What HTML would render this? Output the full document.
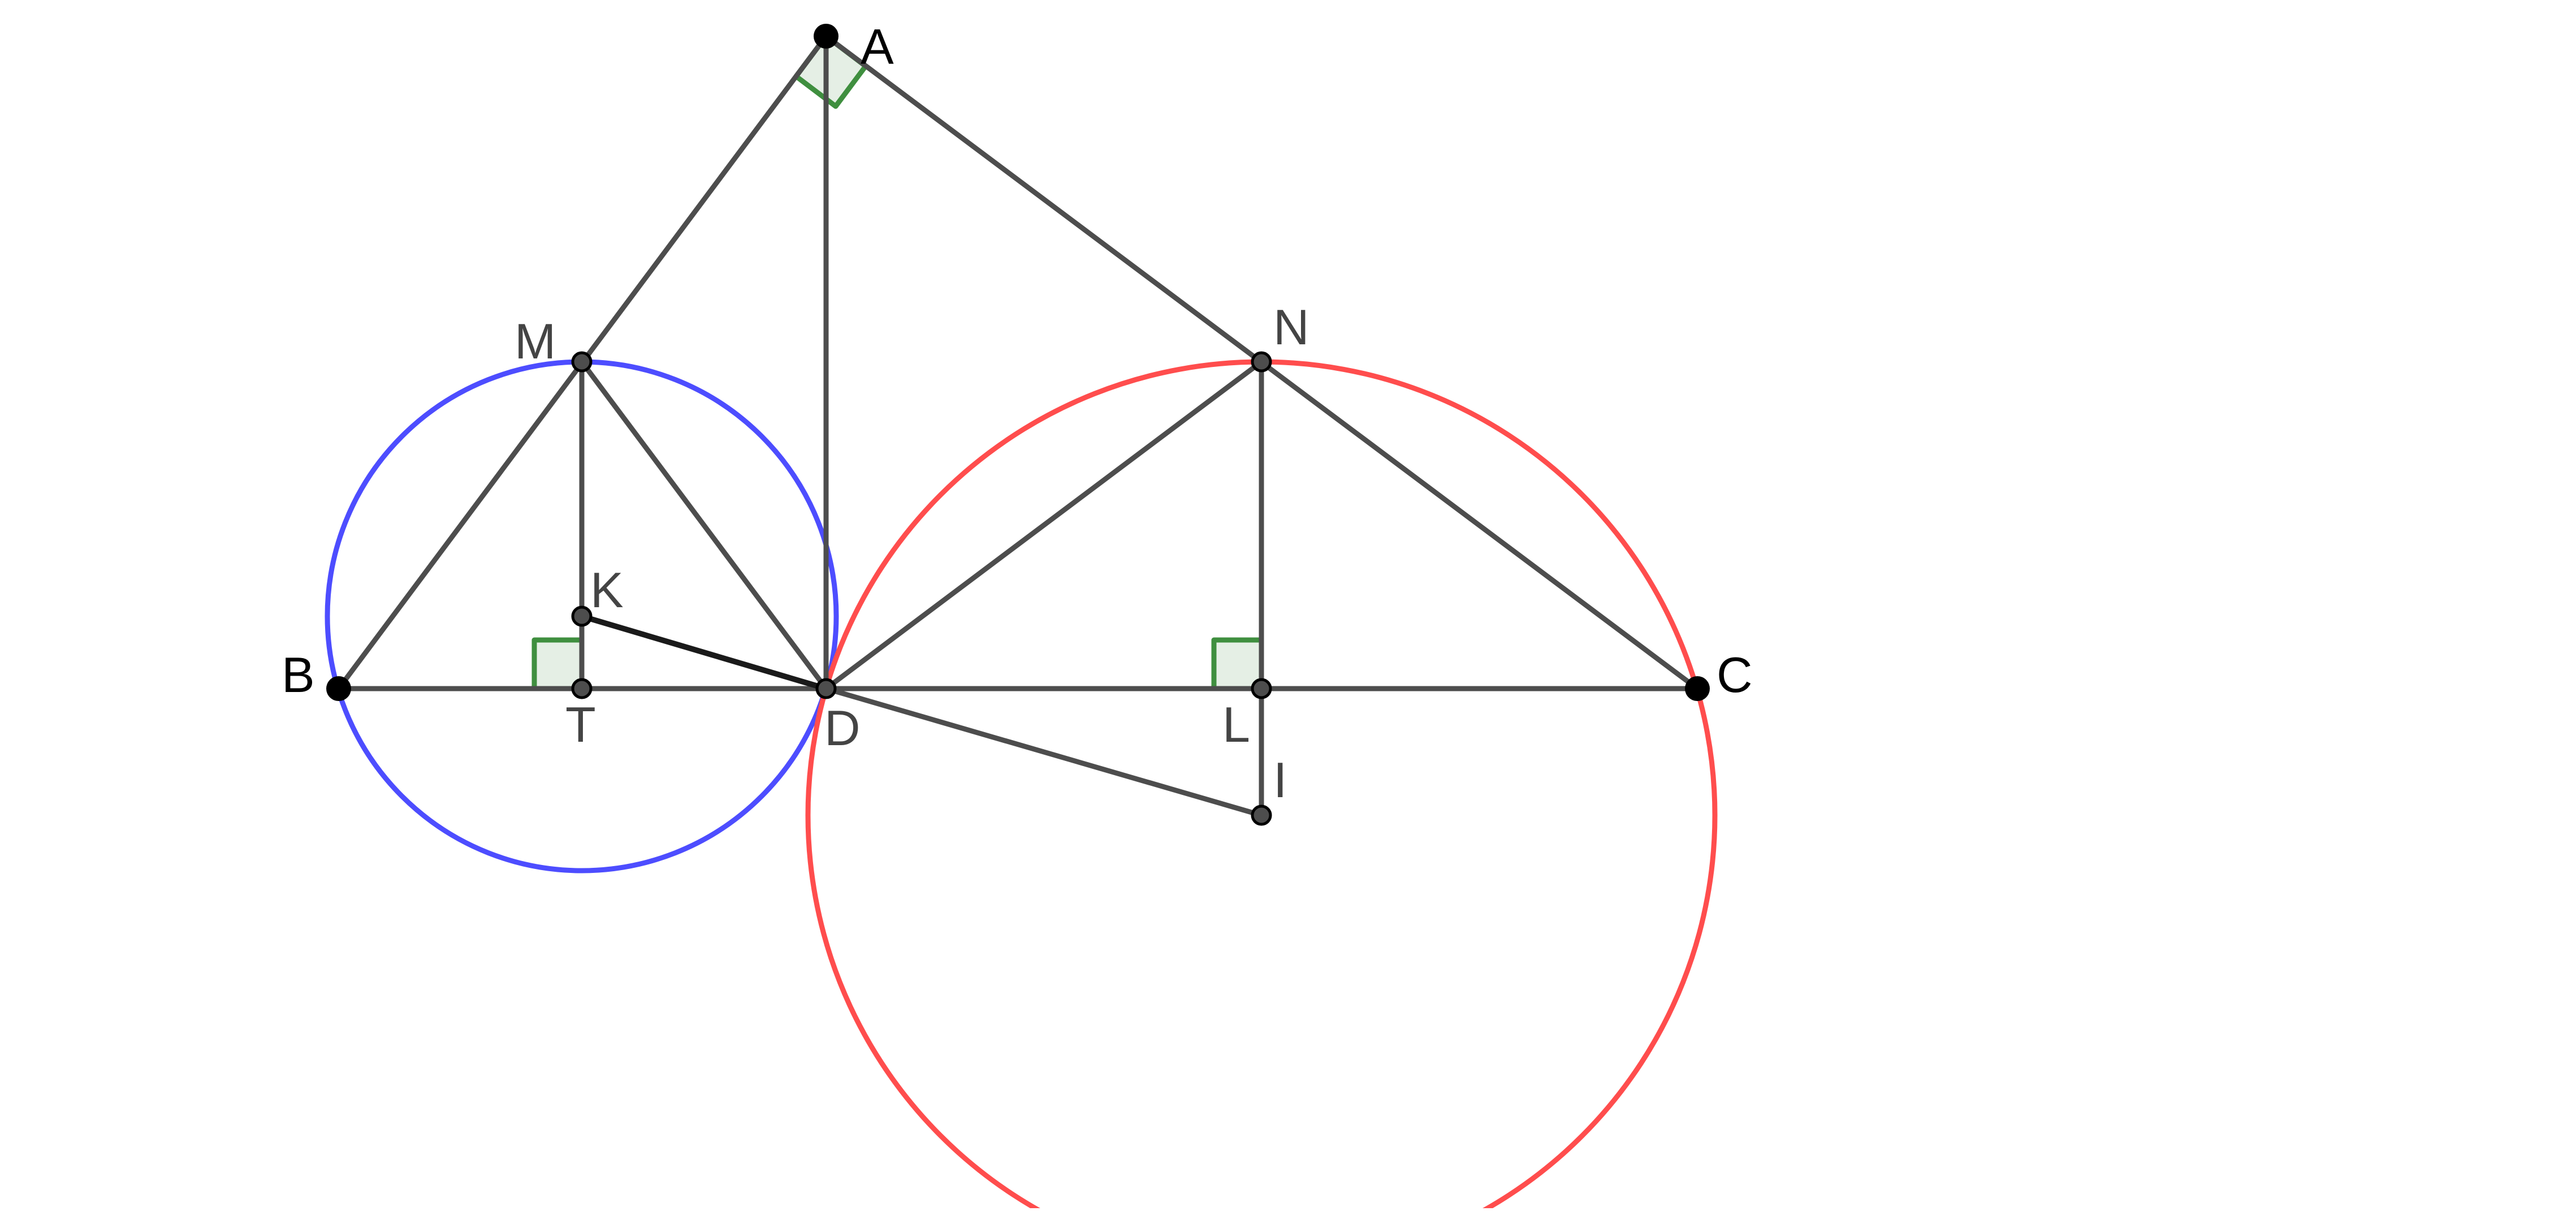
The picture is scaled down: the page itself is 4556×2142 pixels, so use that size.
<!DOCTYPE html>
<html><head><meta charset="utf-8"><style>html,body{margin:0;padding:0;background:#fff;overflow:hidden}</style></head>
<body>
<svg width="4556" height="2137" viewBox="0 0 4556 2137" xmlns="http://www.w3.org/2000/svg" font-family="Liberation Sans, sans-serif" font-size="88">
<rect width="4556" height="2137" fill="#fff"/>
<polygon points="1461,64 1408,135 1478,188 1531,117" fill="rgba(0,100,0,0.1)" stroke="#3f8f3f" stroke-width="9" stroke-linejoin="round"/>
<rect x="945" y="1132" width="84" height="86" fill="rgba(0,100,0,0.1)" stroke="#3f8f3f" stroke-width="9" stroke-linejoin="round"/>
<rect x="2147" y="1132" width="84" height="86" fill="rgba(0,100,0,0.1)" stroke="#3f8f3f" stroke-width="9" stroke-linejoin="round"/>
<circle cx="1029" cy="1090" r="450" fill="none" stroke="#4d4dff" stroke-width="9"/>
<circle cx="2231" cy="1442" r="802" fill="none" stroke="#ff4d4d" stroke-width="9"/>
<g stroke="#4d4d4d" stroke-width="9" stroke-linecap="round" fill="none">
<line x1="599" y1="1218" x2="3002" y2="1218"/>
<line x1="1461" y1="64" x2="599" y2="1218"/>
<line x1="1461" y1="64" x2="3002" y2="1218"/>
<line x1="1461" y1="64" x2="1461" y2="1218"/>
<line x1="1029" y1="640" x2="1029" y2="1218"/>
<line x1="1029" y1="640" x2="1461" y2="1218"/>
<line x1="2231" y1="640" x2="2231" y2="1442"/>
<line x1="2231" y1="640" x2="1461" y2="1218"/>
<line x1="1461" y1="1218" x2="2231" y2="1442"/>
</g>
<line x1="1029" y1="1090" x2="1461" y2="1218" stroke="#1a1a1a" stroke-width="10" stroke-linecap="round"/>
<g fill="#000">
<circle cx="1461" cy="64" r="22"/>
<circle cx="599" cy="1218" r="22"/>
<circle cx="3002" cy="1218" r="22"/>
</g>
<g fill="#4d4d4d" stroke="#000" stroke-width="5">
<circle cx="1029" cy="640" r="16"/>
<circle cx="2231" cy="640" r="16"/>
<circle cx="1029" cy="1090" r="16"/>
<circle cx="1029" cy="1218" r="16"/>
<circle cx="1461" cy="1218" r="16"/>
<circle cx="2231" cy="1218" r="16"/>
<circle cx="2231" cy="1442" r="16"/>
</g>
<g fill="#000">
<text x="1522" y="113">A</text>
<text x="498" y="1224">B</text>
<text x="3036" y="1224">C</text>
</g>
<g fill="#444">
<text x="910" y="634">M</text>
<text x="2252" y="609">N</text>
<text x="1044" y="1074">K</text>
<text x="1000" y="1312">T</text>
<text x="1458" y="1318">D</text>
<text x="2162" y="1312">L</text>
<text x="2252" y="1410">I</text>
</g>
</svg>
</body></html>
